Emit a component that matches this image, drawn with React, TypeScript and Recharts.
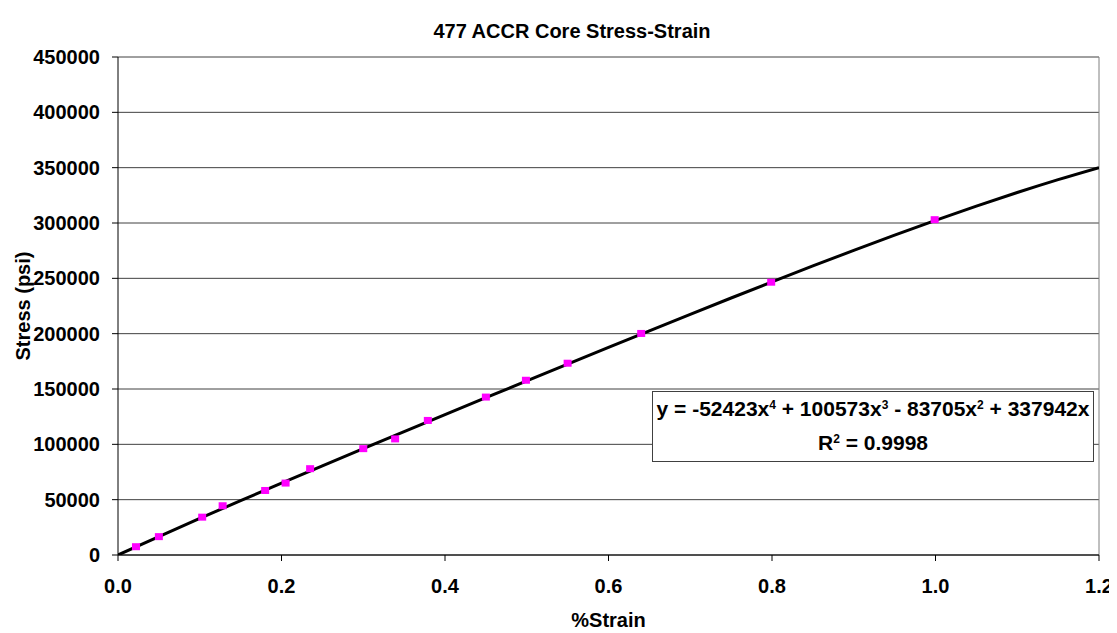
import { CartesianGrid, ComposedChart, Line, ReferenceLine, Scatter, XAxis, YAxis } from "recharts"

const strain = [0.022, 0.05, 0.103, 0.128, 0.18, 0.205, 0.235, 0.3, 0.339, 0.379, 0.45, 0.499, 0.55, 0.64, 0.799, 0.999]
const stress = [7500, 16600, 34200, 44500, 58300, 65000, 78000, 96100, 104900, 121600, 142700, 157900, 173300, 200200, 246500, 303000]

// trendline coefficients as printed in the chart (x^4, x^3, x^2, x)
const trendCoefs = [-52423, 100573, -83705, 337942]
const trendX = [0, 0.05, 0.1, 0.15, 0.2, 0.25, 0.3, 0.35, 0.4, 0.45, 0.5, 0.55, 0.6, 0.65, 0.7, 0.75, 0.8, 0.85, 0.9, 0.95, 1.0, 1.05, 1.1, 1.15, 1.2]

const xTicks = [0, 0.2, 0.4, 0.6, 0.8, 1.0, 1.2]
const yTicks = [0, 50000, 100000, 150000, 200000, 250000, 300000, 350000, 400000, 450000]

const points = strain.map((x, i) => ({ x, y: stress[i] }))
const trend = trendX.map((x) => {
  const [a, b, c, d] = trendCoefs
  return { x, y: a * x ** 4 + b * x ** 3 + c * x ** 2 + d * x }
})

const font = "Arial, 'Liberation Sans', sans-serif"
const tickStyle = { fontFamily: font, fontSize: 20, fontWeight: 700, fill: "#000" }
const supStyle = { fontSize: 12, verticalAlign: "top", lineHeight: "26px" }

const Square = (props: any) => {
  const { cx, cy } = props
  if (cx == null || cy == null) return <g />
  return <rect x={cx - 4} y={cy - 3.5} width={8} height={7} fill="#FF00FF" />
}

export default function App() {
  return (
    <div style={{ position: "relative", width: 1109, height: 625, fontFamily: font, background: "#fff" }}>
      <ComposedChart width={1109} height={625} margin={{ top: 49, right: 18, bottom: 38, left: 0 }}>
        <CartesianGrid vertical={false} stroke="#404040" />
        <XAxis
          type="number"
          dataKey="x"
          domain={[0, 1.2]}
          ticks={xTicks}
          tickFormatter={(v: number) => v.toFixed(1)}
          tick={tickStyle}
          tickSize={6}
          tickMargin={18}
          stroke="#000"
          height={40}
          allowDataOverflow
        />
        <YAxis
          type="number"
          dataKey="y"
          domain={[0, 450000]}
          ticks={yTicks}
          tick={tickStyle}
          tickSize={6}
          tickMargin={12}
          stroke="#000"
          width={110}
          allowDataOverflow
        />
        <ReferenceLine x={1.2} stroke="#808080" />
        <Scatter data={points} shape={Square} isAnimationActive={false} />
        <Line
          data={trend}
          dataKey="y"
          type="monotone"
          stroke="#000"
          strokeWidth={3}
          dot={false}
          activeDot={false}
          isAnimationActive={false}
        />
      </ComposedChart>
      <div
        style={{
          position: "absolute",
          left: 0,
          top: 12,
          width: 1128,
          textAlign: "center",
          fontSize: 20,
          fontWeight: 700,
        }}
      >
        477 ACCR Core Stress-Strain
      </div>
      <div
        style={{
          position: "absolute",
          left: 110,
          top: 601,
          width: 981,
          textAlign: "center",
          fontSize: 20,
          fontWeight: 700,
        }}
      >
        %Strain
      </div>
      <div
        style={{
          position: "absolute",
          left: 15,
          top: 298,
          transform: "translate(-50%, -50%) rotate(-90deg)",
          whiteSpace: "nowrap",
          fontSize: 20,
          fontWeight: 700,
        }}
      >
        Stress (psi)
      </div>
      <div
        style={{
          position: "absolute",
          left: 644,
          top: 383,
          width: 440,
          height: 69,
          border: "1px solid #404040",
          background: "#fff",
          textAlign: "center",
          fontSize: 21,
          fontWeight: 700,
          lineHeight: "34px",
          whiteSpace: "nowrap",
        }}
      >
        <div>
          y = -52423x<span style={supStyle}>4</span> + 100573x<span style={supStyle}>3</span> - 83705x
          <span style={supStyle}>2</span> + 337942x
        </div>
        <div>
          R<span style={supStyle}>2</span> = 0.9998
        </div>
      </div>
    </div>
  )
}
